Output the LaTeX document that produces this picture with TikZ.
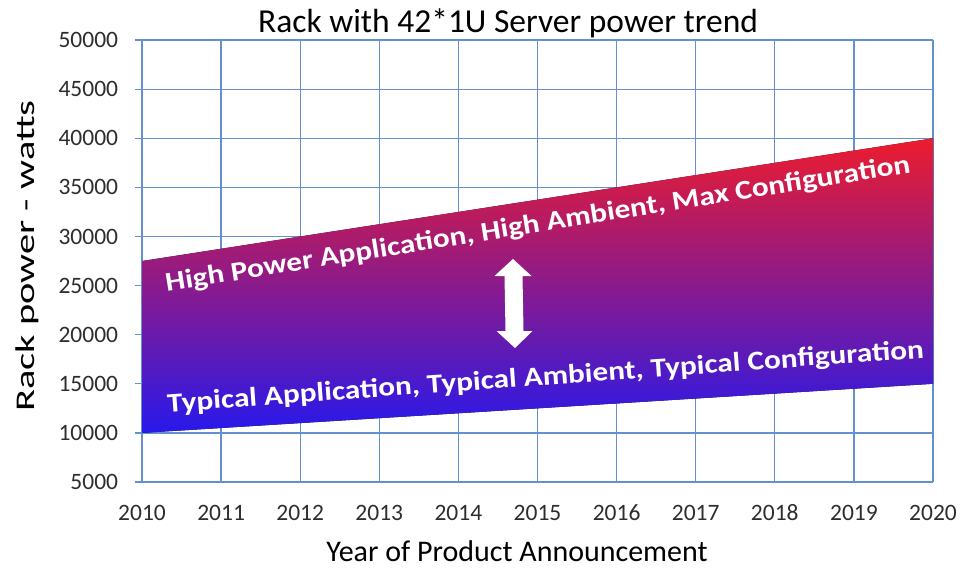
\documentclass[tikz,border=0pt]{standalone}
\usepackage{fontspec}
\setmainfont{Carlito}
\definecolor{gridc}{RGB}{100,145,205}
\definecolor{bandred}{RGB}{236,28,46}
\definecolor{bandpurple}{RGB}{130,22,165}
\definecolor{bandblue}{RGB}{40,25,235}
\definecolor{labc}{RGB}{45,45,45}
\tikzset{
  gridline/.style={draw=gridc,line width=1.3pt},
  ticklab/.style={font=\fontsize{23.5}{23.5}\selectfont,text=labc,inner sep=0pt},
  bandtext/.style={font=\bfseries\fontsize{27}{27}\selectfont,text=white,inner sep=0pt,anchor=base},
  axlab/.style={font=\fontsize{30}{30}\selectfont,text=black,inner sep=0pt}
}
\begin{document}
\begin{tikzpicture}[x=1pt,y=-1pt]
\useasboundingbox (0,0) rectangle (969,568);
\node[font=\fontsize{33.5}{33.5}\selectfont,inner sep=0pt,anchor=base] (title) at (508,32) {Rack with 42*1U Server power trend};
\begin{scope}[shift={(142,482)},x=79.1pt,y=49.1pt]
  \foreach \i in {0,...,10} \draw[gridline] (\i,0) -- (\i,9);
  \foreach \j in {0,...,9} \draw[gridline] (-0.09,\j) -- (10,\j);
  \fill[top color=bandred,middle color=bandpurple,bottom color=bandblue] (0,1) -- (10,2) -- (10,7) -- (0,4.5) -- cycle;
  \foreach \j in {0,...,9} {
    \pgfmathtruncatemacro\v{5+5*\j}
    \node[ticklab,anchor=east] (yl\j) at (-0.3,\j) {\v000};
  }
  \foreach \i in {0,...,10} {
    \pgfmathtruncatemacro\yr{2010+\i}
    \node[ticklab,yshift=-31pt] (xl\i) at (\i,0) {\yr};
  }
\end{scope}
\node[axlab] (xlabel) at (517,551) {Year of Product Announcement};
\node[font=\fontsize{27}{27}\selectfont,inner sep=0pt,rotate=90] (ylabel) at (27,256) {\scalebox{1.5}[1]{Rack power - watts}};
\node[bandtext,rotate=9.1] (hightext) at (539,232) {\scalebox{1.16}[1]{High Power Application, High Ambient, Max Configuration}};
\node[bandtext,rotate=4.1] (typtext) at (546,385) {\scalebox{1.16}[1]{Typical Application, Typical Ambient, Typical Configuration}};
\fill[white] (513,259) -- (531.5,276) -- (522.5,276) -- (523.5,331) -- (532.5,331) -- (515,348) -- (496.5,331) -- (505.5,331) -- (504.5,276) -- (494.5,276) -- cycle;
\end{tikzpicture}
\end{document}
